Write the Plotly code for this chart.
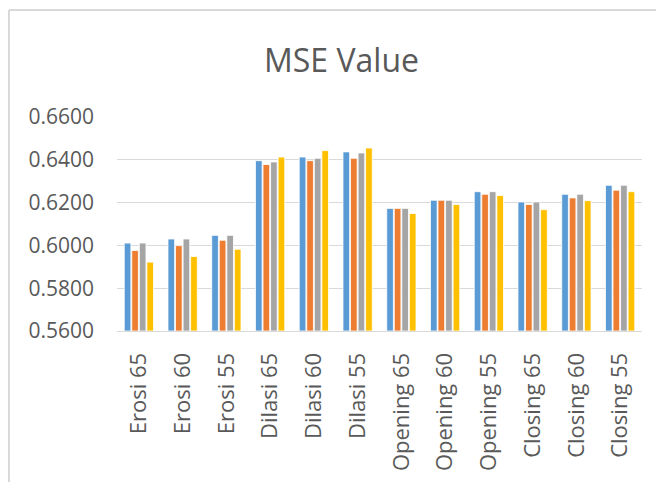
import plotly.graph_objects as go

categories = ["Erosi 65", "Erosi 60", "Erosi 55", "Dilasi 65", "Dilasi 60", "Dilasi 55",
              "Opening 65", "Opening 60", "Opening 55", "Closing 65", "Closing 60", "Closing 55"]

series_1 = [0.6011, 0.6030, 0.6047, 0.6396, 0.6413, 0.6437, 0.6173, 0.6211, 0.6251, 0.6203, 0.6239, 0.6281]
series_2 = [0.5976, 0.5999, 0.6024, 0.6378, 0.6396, 0.6407, 0.6173, 0.6211, 0.6239, 0.6191, 0.6222, 0.6258]
series_3 = [0.6011, 0.6030, 0.6047, 0.6390, 0.6407, 0.6432, 0.6173, 0.6211, 0.6251, 0.6203, 0.6239, 0.6281]
series_4 = [0.5922, 0.5948, 0.5982, 0.6413, 0.6443, 0.6455, 0.6149, 0.6191, 0.6233, 0.6167, 0.6209, 0.6251]

series_names = ["Series 1", "Series 2", "Series 3", "Series 4"]
colors = ["#5B9BD5", "#ED7D31", "#A5A5A5", "#FFC000"]
tick_vals = [0.56, 0.58, 0.60, 0.62, 0.64, 0.66]
tick_text = ["0.5600", "0.5800", "0.6000", "0.6200", "0.6400", "0.6600"]
y_min = 0.56

fig = go.Figure()
for name, vals, col in zip(series_names, [series_1, series_2, series_3, series_4], colors):
    fig.add_trace(go.Bar(
        x=categories, y=[v - y_min for v in vals], base=y_min, name=name,
        marker=dict(color=col, line=dict(color="white", width=0.8)),
    ))

OFF = 8  # page body margin
W, H = 664 - OFF, 482 - OFF
L, R, T, B = 117 - OFF, 22, 117 - OFF, 151
pw, ph = W - L - R, H - T - B

fig.update_layout(
    width=W, height=H,
    margin=dict(l=L, r=R, t=T, b=B),
    paper_bgcolor="white", plot_bgcolor="white",
    showlegend=False,
    barmode="group", bargap=0.31, bargroupgap=0.12,
    font=dict(family="Open Sans", color="#595959"),
    title=dict(text="MSE Value", x=(341.5 - OFF) / W, xanchor="center",
               y=1 - (61 - OFF) / H, yanchor="middle",
               font=dict(size=32, color="#595959", family="Open Sans")),
    yaxis=dict(range=[0.56, 0.66], tickvals=tick_vals, ticktext=tick_text,
               showgrid=True, gridcolor="#d9d9d9", gridwidth=1,
               zeroline=False, showline=False, ticks="",
               tickfont=dict(size=21, color="#595959"),
               ticklabelstandoff=22),
    xaxis=dict(tickangle=-90, showline=True, linecolor="#d9d9d9", linewidth=1,
               ticks="", tickfont=dict(size=22, color="#595959"),
               ticklabelstandoff=12),
    shapes=[
        dict(type="line", xref="paper", yref="paper",
             x0=(9 - OFF - L) / pw, x1=(W + 5 - L) / pw,
             y0=(H - B - (10 - OFF)) / ph, y1=(H - B - (10 - OFF)) / ph,
             line=dict(color="#d9d9d9", width=2)),
        dict(type="line", xref="paper", yref="paper",
             x0=(9 - OFF - L) / pw, x1=(9 - OFF - L) / pw,
             y0=(H - B - (10 - OFF)) / ph, y1=(H - B - H - 5) / ph,
             line=dict(color="#d9d9d9", width=2)),
    ],
)

fig.write_html("out.html")
